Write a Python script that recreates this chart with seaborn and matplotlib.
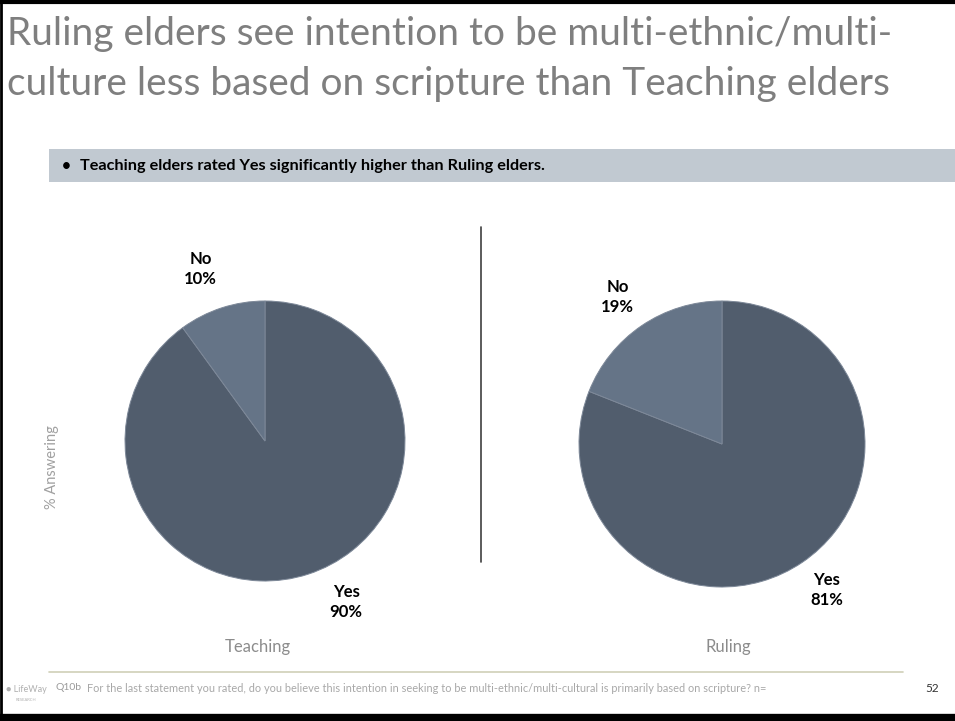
import matplotlib
matplotlib.use("Agg")
import matplotlib.pyplot as plt
import seaborn as sns
from matplotlib.patches import Rectangle
from matplotlib.lines import Line2D

sns.set_theme(style="white")
plt.rcParams['font.family'] = ['Lato', 'DejaVu Sans']

# ---- data ----
groups = ["Teaching", "Ruling"]
answers = ["Yes", "No"]
teaching_values = [90, 10]
ruling_values = [81, 19]
title_lines = ["Ruling elders see intention to be multi-ethnic/multi-",
               "culture less based on scripture than Teaching elders"]
bullet = "Teaching elders rated Yes significantly higher than Ruling elders."
footnote = ("For the last statement you rated, do you believe this intention in seeking "
            "to be multi-ethnic/multi-cultural is primarily based on scripture? n=")

W, H = 955, 721
fig = plt.figure(figsize=(W / 100, H / 100), dpi=100)
fig.patch.set_facecolor("white")

colors = ["#515d6d", "#657487"]
edge = "#7d8898"

def px_axes(cx, cy, r):
    half = 1.5 * r
    return fig.add_axes([(cx - half) / W, (H - cy - half) / H, 2 * half / W, 2 * half / H])

def draw_pie(ax, values, label_pos):
    ax.pie(values, colors=colors, startangle=90, counterclock=False,
           wedgeprops=dict(edgecolor=edge, linewidth=0.7))
    ax.set_xlim(-1.5, 1.5)
    ax.set_ylim(-1.5, 1.5)
    ax.set_aspect("equal")
    ax.axis("off")
    for name, val, (x, y) in zip(answers, values, label_pos):
        ax.text(x, y, f"{name}\n{val}%", ha="center", va="center",
                fontsize=12, color="black", linespacing=1.3, fontweight="bold")

ax1 = px_axes(265, 441, 140)
draw_pie(ax1, teaching_values, [(0.58, -1.15), (-0.46, 1.23)])
ax2 = px_axes(722, 444, 143)
draw_pie(ax2, ruling_values, [(0.73, -1.02), (-0.73, 1.03)])

# overlay axes in pixel coords
ov = fig.add_axes([0, 0, 1, 1], zorder=-1)
ov.set_xlim(0, W)
ov.set_ylim(H, 0)
ov.axis("off")

# border
ov.add_line(Line2D([0, W], [1.5, 1.5], color="black", lw=3))
ov.add_line(Line2D([1, 1], [0, H], color="black", lw=2))
ov.add_line(Line2D([0, W], [718, 718], color="black", lw=6))

# title
fig.text(7 / W, 1 - 34 / H, title_lines[0], fontsize=28, color="#7f7f7f",
         va="center", ha="left")
fig.text(7 / W, 1 - 84 / H, title_lines[1], fontsize=28, color="#7f7f7f",
         va="center", ha="left")

# bullet box
ov.add_patch(Rectangle((49, 149), W - 49, 33, facecolor="#c1c9d1", edgecolor="none"))
fig.text(66 / W, 1 - 166 / H, "\u2022", fontsize=11, color="black",
         va="center", ha="center", fontweight="bold")
fig.text(80 / W, 1 - 166 / H, bullet, fontsize=11.7, color="black",
         va="center", ha="left", fontweight="bold")

# divider
ov.add_line(Line2D([481, 481], [227, 562], color="#404040", lw=1.2))

# axis label
fig.text(52 / W, 1 - 467 / H, "% Answering", rotation=90, fontsize=10.5,
         color="#a0a0a0", va="center", ha="center")

# group labels
fig.text(258 / W, 1 - 647 / H, groups[0], fontsize=12, color="#8c8c8c", ha="center", va="center")
fig.text(728 / W, 1 - 647 / H, groups[1], fontsize=12, color="#8c8c8c", ha="center", va="center")

# footer
ov.add_line(Line2D([49, 903], [672, 672], color="#cfcfb8", lw=1.2))
fig.text(55 / W, 1 - 688 / H, "Q10b", fontsize=7.5, color="#9a9a9a", ha="left", va="center")
fig.text(87 / W, 1 - 688 / H, footnote, fontsize=7.9, color="#a8a8a8", ha="left", va="center")
fig.text(932 / W, 1 - 688 / H, "52", fontsize=8.5, color="#333333", ha="center", va="center")
fig.text(6 / W, 1 - 690 / H, "\u25CF LifeWay", fontsize=6.5, color="#b0b0b0", ha="left", va="center")
fig.text(16 / W, 1 - 700 / H, "RESEARCH", fontsize=3, color="#b0b0b0", ha="left", va="center")

fig.savefig("out.png", dpi=100, facecolor="white")
